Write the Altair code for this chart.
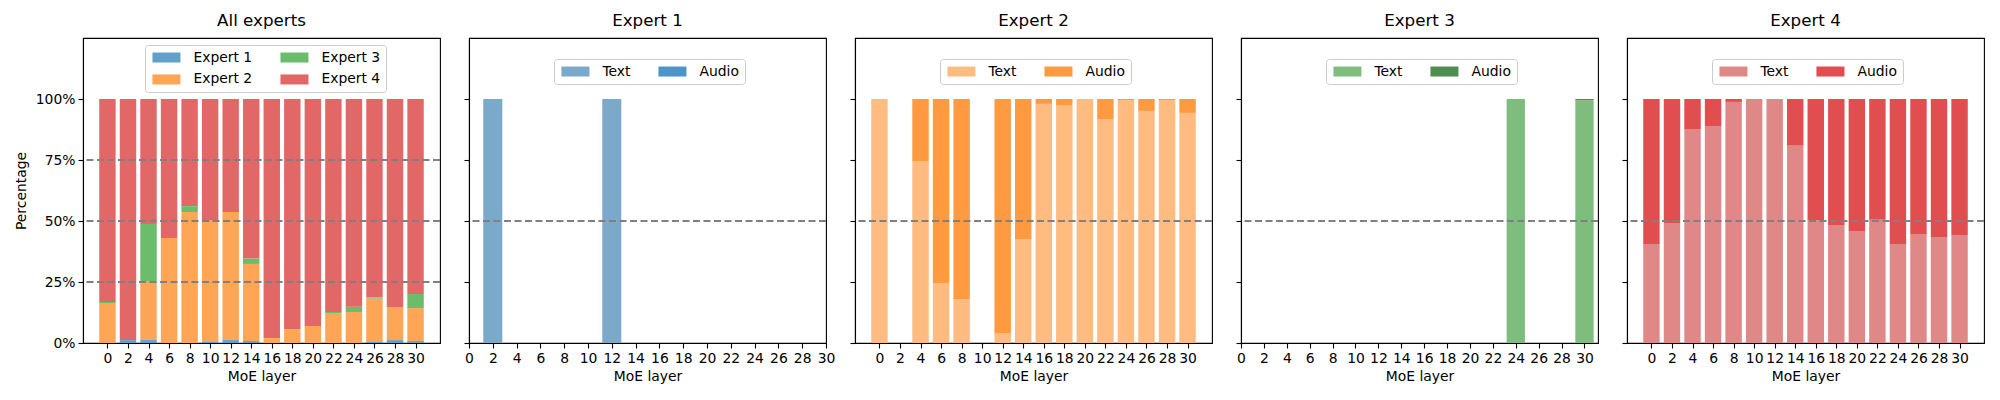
import altair as alt
import pandas as pd

# ---------------- data (percent) ----------------
layers = [0, 2, 4, 6, 8, 10, 12, 14, 16, 18, 20, 22, 24, 26, 28, 30]

# All experts (stacked share per layer)
all_e1 = [0.0, 1.2, 1.2, 0.0, 0.0, 0.4, 1.2, 0.8, 0.0, 0.0, 0.0, 0.0, 0.0, 0.4, 1.2, 0.8]
all_e2 = [16.4, 0.0, 24.2, 43.0, 53.7, 50.0, 52.5, 31.6, 2.0, 5.7, 7.0, 12.3, 12.7, 17.8, 13.6, 13.5]
all_e3 = [0.4, 0.0, 23.4, 0.0, 2.4, 0.0, 0.0, 2.2, 0.0, 0.0, 0.0, 0.4, 2.2, 0.4, 0.0, 5.8]
all_e4 = [83.2, 98.8, 51.2, 57.0, 43.9, 49.6, 46.3, 65.4, 98.0, 94.3, 93.0, 87.3, 85.1, 81.4, 85.2, 79.9]

# Expert 1
layers_e1 = [2, 12]
text_e1 = [100.0, 100.0]
audio_e1 = [0.0, 0.0]

# Expert 2
layers_e2 = [0, 4, 6, 8, 12, 14, 16, 18, 20, 22, 24, 26, 28, 30]
text_e2 = [100.0, 74.6, 24.6, 17.8, 4.1, 42.6, 98.0, 97.5, 100.0, 91.8, 99.6, 95.1, 99.6, 94.3]
audio_e2 = [0.0, 25.4, 75.4, 82.2, 95.9, 57.4, 2.0, 2.5, 0.0, 8.2, 0.4, 4.9, 0.4, 5.7]

# Expert 3
layers_e3 = [24, 30]
text_e3 = [100.0, 99.5]
audio_e3 = [0.0, 0.5]

# Expert 4
layers_e4 = layers
text_e4 = [40.6, 49.2, 87.7, 88.9, 98.8, 100.0, 100.0, 81.1, 50.3, 48.4, 45.9, 50.5, 40.6, 44.7, 43.4, 44.3]
audio_e4 = [59.4, 50.8, 12.3, 11.1, 1.2, 0.0, 0.0, 18.9, 49.7, 51.6, 54.1, 49.5, 59.4, 55.3, 56.6, 55.7]

x_ticks = list(range(0, 31, 2))
y_ticks = [0, 25, 50, 75, 100]

# ---------------- styling ----------------
FONT = "DejaVu Sans"
W, H = 357, 305
LBL = 13.9
RECT_PATH = "M-1,-1H4.6V1H-1Z"


def long_df(layer_list, series):
    rows = []
    for idx, (name, vals) in enumerate(series):
        for l, v in zip(layer_list, vals):
            rows.append({"layer": l, "series": name, "value": v, "idx": idx})
    return pd.DataFrame(rows)


def panel(df, colors, legend_order, title, xdomain, lx, ly, first, hlines):
    legend = alt.Legend(
        title=None, orient="none", legendX=lx, legendY=ly, columns=2,
        symbolType=RECT_PATH, symbolSize=100, symbolStrokeWidth=0, symbolOpacity=1,
        labelFontSize=LBL, labelFont=FONT, labelColor="black", labelOffset=29,
        columnPadding=26, rowPadding=7, padding=5.5,
        strokeColor="#cccccc", fillColor="white", cornerRadius=3,
    )
    yaxis = alt.Axis(
        values=y_ticks, labelExpr="datum.value + '%'", title="Percentage" if first else "",
        labels=first, titlePadding=7,
    )
    xaxis = alt.Axis(values=x_ticks, title="MoE layer", labelOverlap=False, labelFlush=False,
                     titlePadding=5)
    yscale = alt.Scale(domain=[0, 125], nice=False, zero=False)
    bars = alt.Chart(df).transform_calculate(
        x0="datum.layer - 0.8", x1="datum.layer + 0.8"
    ).transform_stack(
        stack="value", groupby=["layer"], as_=["y0", "y1"],
        sort=[alt.SortField("idx", order="ascending")],
    ).mark_rect().encode(
        x=alt.X("x0:Q", scale=alt.Scale(domain=xdomain, nice=False, zero=False), axis=xaxis),
        x2="x1:Q",
        y=alt.Y("y0:Q", scale=yscale, axis=yaxis),
        y2="y1:Q",
        color=alt.Color("series:N", scale=alt.Scale(domain=legend_order, range=colors), legend=legend),
    )
    rules = alt.Chart(pd.DataFrame({"h": hlines})).mark_rule(
        color="#808080", strokeDash=[7, 3.5], strokeWidth=2
    ).encode(y=alt.Y("h:Q", scale=yscale, axis=yaxis))
    return alt.layer(bars, rules).properties(
        width=W, height=H, title=alt.TitleParams(title)
    )


FULL = [-2.38, 32.38]

df_all = long_df(layers, [("Expert 1", all_e1), ("Expert 2", all_e2), ("Expert 3", all_e3), ("Expert 4", all_e4)])
p_all = panel(
    df_all,
    ["#62a0ca", "#ffa556", "#6bbc6b", "#e26868"],
    ["Expert 1", "Expert 2", "Expert 3", "Expert 4"],
    "All experts", FULL, 62, 7, True, [25, 50, 75],
)

def expert_panel(name, lyr, txt, aud, colors, xdomain):
    df = long_df(lyr, [("Text", txt), ("Audio", aud)])
    return panel(df, colors, ["Text", "Audio"], name, xdomain, 85, 21, False, [50])

p1 = expert_panel("Expert 1", layers_e1, text_e1, audio_e1, ["#7ba9ca", "#4b95c9"], [0, 30])
p2 = expert_panel("Expert 2", layers_e2, text_e2, audio_e2, ["#ffbb80", "#ff9a40"], FULL)
p3 = expert_panel("Expert 3", layers_e3, text_e3, audio_e3, ["#7fbd7f", "#4e8e50"], [0, 31.18])
p4 = expert_panel("Expert 4", layers_e4, text_e4, audio_e4, ["#e08888", "#e04e50"], FULL)

chart = alt.hconcat(p_all, p1, p2, p3, p4, spacing=29, bounds="flush").resolve_scale(
    color="independent"
).properties(
    padding={"left": 5, "top": 4, "right": 2, "bottom": 2}
).configure(
    font=FONT
).configure_view(
    stroke="black", strokeWidth=1.1
).configure_axis(
    domainColor="black", tickColor="black", labelColor="black", titleColor="black",
    labelFontSize=LBL, titleFontSize=LBL, titleFontWeight="normal", labelFont=FONT, titleFont=FONT,
    grid=False, tickSize=5, tickWidth=1.1, domainWidth=1.1, labelPadding=3,
).configure_title(
    fontSize=16.7, fontWeight="normal", color="black", font=FONT, offset=8
)

chart.save("out.html", embed_options={"renderer": "svg", "actions": False})
